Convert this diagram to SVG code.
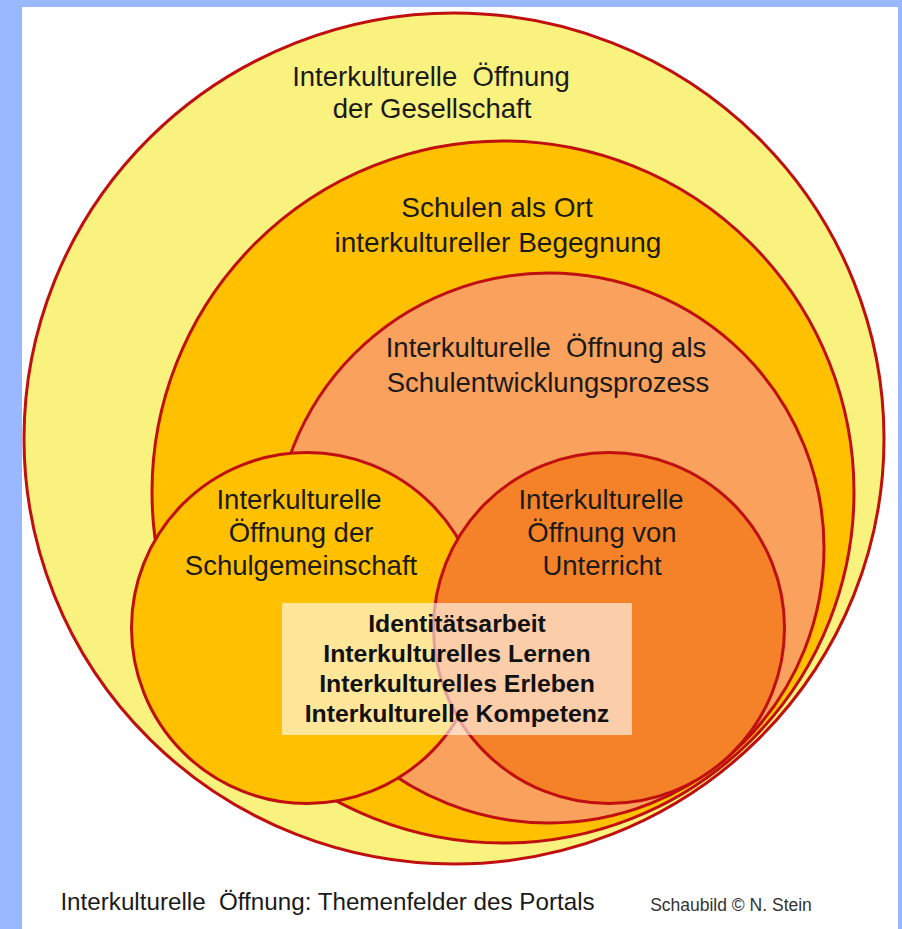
<svg xmlns="http://www.w3.org/2000/svg" width="902" height="929" viewBox="0 0 902 929">
<style>
.c{stroke:#C00F0F;stroke-width:3}
text{font-family:"Liberation Sans",Arial,sans-serif;font-size:27.500px;fill:#1a1a1a;text-anchor:middle}
.b{font-weight:700;font-size:24.800px;fill:#111}
.w{font-size:28px}
</style>
<rect width="902" height="929" fill="#99B8FF"/>
<rect x="22" y="7" width="876" height="922" fill="#fff"/>
<g id="gesellschaft"><ellipse class="c" cx="454" cy="438.500" rx="430" ry="425.500" fill="#FAF27E"/>
<text x="431" y="86">Interkulturelle&#160;&#160;Öffnung</text><text x="432" y="118">der Gesellschaft</text></g>
<g id="schulen"><circle class="c" cx="503" cy="492" r="351" fill="#FFC000"/>
<text class="w" x="497" y="217">Schulen als Ort</text><text class="w" x="498" y="252">interkultureller Begegnung</text></g>
<g id="prozess"><circle class="c" cx="549" cy="548" r="275" fill="#F9A15D"/>
<text x="546" y="357">Interkulturelle&#160;&#160;Öffnung als</text><text x="548" y="392">Schulentwicklungsprozess</text></g>
<g id="schulgemeinschaft"><circle class="c" cx="307" cy="628" r="175.500" fill="#FFC000"/>
<text x="299" y="509">Interkulturelle</text><text x="301" y="542">Öffnung der</text><text x="301" y="575">Schulgemeinschaft</text></g>
<g id="unterricht"><circle class="c" cx="609" cy="628" r="175.500" fill="#F58228"/>
<text x="601" y="509">Interkulturelle</text><text x="602" y="542">Öffnung von</text><text x="602" y="575">Unterricht</text></g>
<g id="kern"><rect x="282" y="603" width="350" height="132" fill="#fff" fill-opacity=".6"/>
<text class="b" x="457" y="632">Identitätsarbeit</text><text class="b" x="457" y="662">Interkulturelles Lernen</text><text class="b" x="457" y="692">Interkulturelles Erleben</text><text class="b" x="457" y="722">Interkulturelle Kompetenz</text></g>
<g id="connectors"/>
<text x="327.500" y="910" style="font-size:24.200px">Interkulturelle&#160;&#160;Öffnung: Themenfelder des Portals</text>
<text x="731" y="911" style="font-size:17.500px;fill:#333">Schaubild © N. Stein</text>
</svg>
